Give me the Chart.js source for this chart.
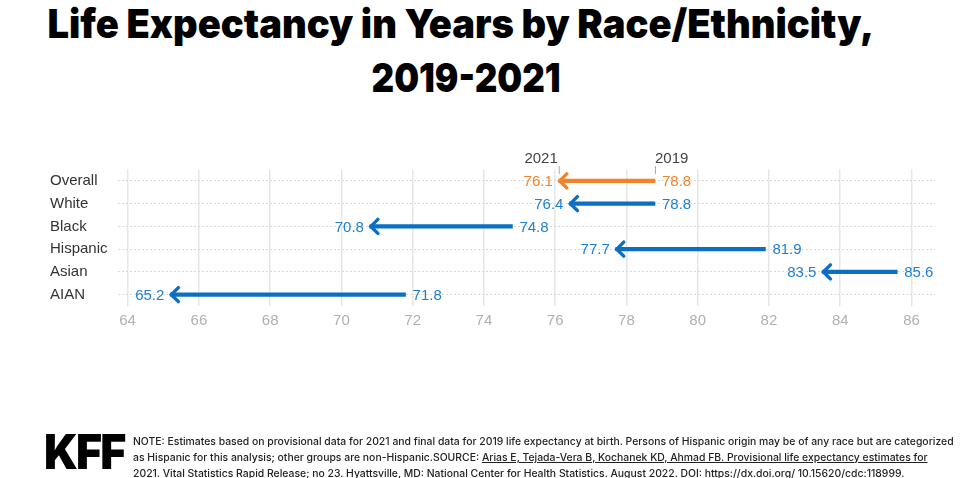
<!DOCTYPE html>
<html>
<head>
<meta charset="utf-8">
<script src="https://cdn.jsdelivr.net/npm/chart.js@4.4.1/dist/chart.umd.min.js"></script>
<style>
  html, body { margin: 0; padding: 0; background: #fff; }
  body { width: 960px; height: 478px; position: relative; overflow: hidden; }
  #chart { position: absolute; left: 0; top: 0; }
  .title {
    position: absolute; left: 0; text-align: center;
    font-family: Inter, sans-serif; font-weight: 900; color: #000;
    white-space: nowrap;
  }
  .title span { display: inline-block; transform-origin: center; }
  #t1 { top: 0px; width: 922px; font-size: 40px; line-height: 48px; }
  #t1 span { transform: scaleX(0.953); }
  #t2 { top: 54px; width: 932px; font-size: 40px; line-height: 48px; }
  #t2 span { transform: scaleX(0.875); }
  #logo {
    position: absolute; left: 44px; top: 424px;
    font-family: Inter, sans-serif; font-weight: 900; font-size: 48px; line-height: 56px;
    letter-spacing: -2px; color: #000; transform: scaleX(0.93); transform-origin: left;
  }
  .note {
    position: absolute; left: 133px; font-family: Inter, sans-serif; font-size: 10.42px;
    font-weight: 500; color: #222; white-space: nowrap; line-height: 14px;
  }
  .note u { text-decoration-thickness: 1px; }
</style>
</head>
<body>
<div class="title" id="t1"><span>Life Expectancy in Years by Race/Ethnicity,</span></div>
<div class="title" id="t2"><span>2019-2021</span></div>
<canvas id="chart" width="960" height="478"></canvas>
<div id="logo">KFF</div>
<div class="note" style="top:435px">NOTE: Estimates based on provisional data for 2021 and final data for 2019 life expectancy at birth. Persons of Hispanic origin may be of any race but are categorized</div>
<div class="note" style="top:451px">as Hispanic for this analysis; other groups are non-Hispanic.SOURCE: <u>Arias E, Tejada-Vera B, Kochanek KD, Ahmad FB. Provisional life expectancy estimates for</u></div>
<div class="note" style="top:467px">2021. Vital Statistics Rapid Release; no 23. Hyattsville, MD: National Center for Health Statistics. August 2022. DOI: https://dx.doi.org/ 10.15620/cdc:118999.</div>
<script>
// chart data
const categories = ["Overall", "White", "Black", "Hispanic", "Asian", "AIAN"];
const values2019 = [78.8, 78.8, 74.8, 81.9, 85.6, 71.8];
const values2021 = [76.1, 76.4, 70.8, 77.7, 83.5, 65.2];
const yearLabels = ["2021", "2019"];
const xTicks = [64, 66, 68, 70, 72, 74, 76, 78, 80, 82, 84, 86];

const ORANGE = "#f2832a";
const BLUE = "#0b6fc4";
const BLUE_TEXT = "#1f80d3";
const LABEL_FONT = "15px 'Liberation Sans', Arial, sans-serif";

const colorFor = i => (i === 0 ? ORANGE : BLUE);
const textColorFor = i => (i === 0 ? ORANGE : BLUE_TEXT);

// arrowheads, value labels and the year header
const arrowPlugin = {
  id: "arrows",
  afterDatasetsDraw(chart) {
    const { ctx, scales: { x, y } } = chart;
    ctx.save();
    ctx.font = LABEL_FONT;
    ctx.textBaseline = "middle";
    categories.forEach((c, i) => {
      const x21 = x.getPixelForValue(values2021[i]);
      const x19 = x.getPixelForValue(values2019[i]);
      const yy = y.getPixelForValue(i);
      ctx.strokeStyle = colorFor(i);
      ctx.lineWidth = 3.5;
      ctx.lineCap = "round";
      ctx.lineJoin = "miter";
      ctx.beginPath();
      ctx.moveTo(x21 + 8, yy - 7);
      ctx.lineTo(x21 + 1, yy);
      ctx.lineTo(x21 + 8, yy + 7);
      ctx.stroke();
      ctx.fillStyle = textColorFor(i);
      ctx.textAlign = "right";
      ctx.fillText(values2021[i].toFixed(1), x21 - 6, yy + 1);
      ctx.textAlign = "left";
      ctx.fillText(values2019[i].toFixed(1), x19 + 7, yy + 1);
    });
    // year header above the first row
    const hx21 = x.getPixelForValue(values2021[0]);
    const hx19 = x.getPixelForValue(values2019[0]);
    ctx.fillStyle = "#444";
    ctx.textBaseline = "alphabetic";
    ctx.textAlign = "right";
    ctx.fillText(yearLabels[0], hx21 - 1, 163);
    ctx.textAlign = "left";
    ctx.fillText(yearLabels[1], hx19, 163);
    ctx.strokeStyle = "#aaa";
    ctx.lineWidth = 1;
    ctx.lineCap = "butt";
    [hx21, hx19].forEach(px => {
      ctx.beginPath();
      ctx.moveTo(px + 0.5, 166);
      ctx.lineTo(px + 0.5, 174);
      ctx.stroke();
    });
    ctx.restore();
  },
};

new Chart(document.getElementById("chart"), {
  type: "bar",
  data: {
    labels: categories,
    datasets: [{
      data: categories.map((c, i) => [values2021[i], values2019[i]]),
      backgroundColor: categories.map((c, i) => colorFor(i)),
      barThickness: 3.5,
      borderSkipped: false,
    }],
  },
  options: {
    indexAxis: "y",
    responsive: false,
    animation: false,
    layout: { padding: { left: 50, right: 25, top: 169.5, bottom: 142 } },
    plugins: { legend: { display: false }, tooltip: { enabled: false } },
    scales: {
      x: {
        min: 63.73,
        max: 86.66,
        afterBuildTicks: s => { s.ticks = xTicks.map(v => ({ value: v })); },
        afterFit: s => { s.height = 30; },
        ticks: { color: "#b0b0b0", font: { family: "'Liberation Sans', Arial, sans-serif", size: 15 }, padding: 6 },
        grid: { color: "#e6e6e6", lineWidth: 1.5, drawTicks: false },
        border: { display: false },
      },
      y: {
        afterFit: s => { s.width = 68; },
        ticks: { color: "#333", crossAlign: "far", font: { family: "'Liberation Sans', Arial, sans-serif", size: 15 } },
        grid: { color: "#d9d9d9", lineWidth: 1, offset: false, drawTicks: false },
        border: { display: false, dash: [2, 2] },
      },
    },
  },
  plugins: [arrowPlugin],
});
</script>
</body>
</html>
